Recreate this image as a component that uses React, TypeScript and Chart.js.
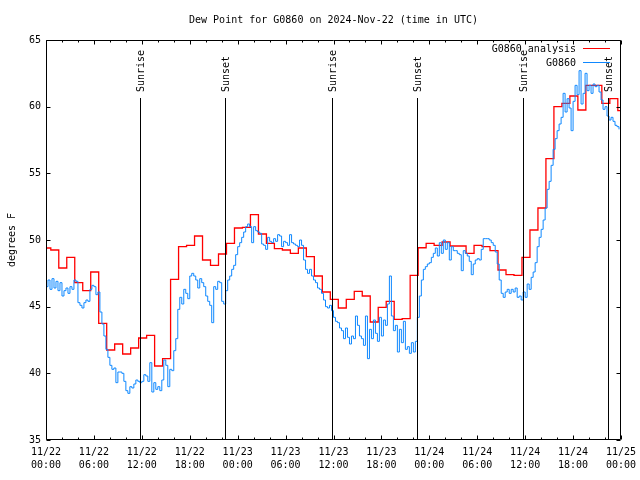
import React, { useEffect, useRef } from 'react';
import { Chart, registerables } from 'chart.js';

Chart.register(...registerables);

const TITLE = 'Dew Point for G0860 on 2024-Nov-22 (time in UTC)';
const Y_TITLE = 'degrees F';
const ANALYSIS_LABEL = 'G0860 analysis';
const STATION_LABEL = 'G0860';

const X_TICK_HOURS = [0, 6, 12, 18, 24, 30, 36, 42, 48, 54, 60, 66, 72];
const X_TICK_DATES = ['11/22', '11/22', '11/22', '11/22', '11/23', '11/23', '11/23', '11/23', '11/24', '11/24', '11/24', '11/24', '11/25'];
const X_TICK_TIMES = ['00:00', '06:00', '12:00', '18:00', '00:00', '06:00', '12:00', '18:00', '00:00', '06:00', '12:00', '18:00', '00:00'];

const Y_MIN = 35;
const Y_MAX = 65;
const Y_STEP = 5;

const SUNRISE_HOURS = [11.77, 35.78, 59.79];
const SUNSET_HOURS = [22.43, 46.41, 70.36];

// hourly analysis values; entry k holds from hour k-0.4 to k+0.6
const ANALYSIS_VALUES = [
  49.4, 49.25, 47.9, 48.7, 46.8, 46.2, 47.6, 43.75, 41.75, 42.2, 41.45, 41.9,
  42.65, 42.85, 40.55, 41.1, 47.05, 49.5, 49.6, 50.3, 48.5, 48.1, 48.95, 49.75,
  50.9, 50.95, 51.9, 50.45, 49.75, 49.35, 49.25, 49.0, 49.4, 48.75, 47.3, 46.1,
  45.55, 44.9, 45.55, 46.15, 45.8, 43.85, 44.95, 45.4, 44.05, 44.1, 47.35, 49.42,
  49.75, 49.6, 49.85, 49.55, 49.55, 49.0, 49.6, 49.5, 49.2, 47.75, 47.4, 47.35,
  48.7, 50.75, 52.4, 56.1, 60.0, 60.25, 60.8, 59.75, 61.6, 61.6, 60.25, 60.6,
  59.7,
];
const ANALYSIS_OFFSET_HOURS = -0.4;

// station observations every 15 minutes from 11/22 00:00
const STATION_STEP_HOURS = 0.25;
const STATION_VALUES = [
  46.5, 47.0, 46.3, 47.1, 46.4, 46.9, 46.2, 46.8,
  45.8, 46.2, 46.4, 46.0, 46.5, 46.3, 47.0, 46.9,
  45.3, 45.1, 44.9, 45.3, 45.5, 45.4, 46.3, 46.6,
  46.5, 45.9, 46.1, 44.6, 43.7, 42.8, 41.8, 41.2,
  40.6, 40.3, 40.4, 39.3, 40.1, 40.1, 40.0, 39.4,
  38.7, 38.5, 39.0, 38.9, 39.2, 39.5, 39.4, 39.3,
  39.4, 39.9, 39.8, 39.4, 40.8, 38.6, 39.3, 38.8,
  39.0, 38.7, 39.5, 41.0, 40.6, 39.0, 40.3, 40.2,
  41.7, 42.6, 44.8, 45.7, 45.2, 46.3, 46.0, 45.6,
  47.3, 47.5, 47.3, 47.0, 46.4, 47.1, 46.8, 46.5,
  45.8, 45.4, 45.1, 43.8, 46.5, 46.3, 46.9, 46.8,
  45.4, 45.2, 46.2, 47.0, 47.3, 47.8, 48.1, 48.9,
  49.5, 49.8, 50.2, 50.6, 51.0, 51.2, 51.0, 49.8,
  51.0, 50.7, 50.6, 50.5, 49.7, 49.6, 49.3, 50.2,
  49.9, 49.8, 50.1, 49.9, 50.4, 50.3, 49.5, 49.9,
  49.8, 49.6, 50.4, 49.8, 49.7, 49.6, 49.5, 50.0,
  49.6, 48.5, 47.8, 47.5, 47.8, 47.3, 47.0, 46.8,
  46.4, 46.3, 46.0, 45.5, 45.0, 44.9, 45.1, 44.7,
  44.2, 43.9, 43.8, 43.4, 43.2, 42.6, 43.4, 42.7,
  42.2, 42.8, 42.6, 44.3, 43.6, 42.8, 42.6, 42.1,
  44.3, 41.1, 43.3, 42.6, 44.0, 43.0, 42.4, 44.2,
  42.8, 44.0, 43.6, 45.2, 47.3, 44.3, 43.2, 43.6,
  41.6, 43.3, 42.3, 43.9, 41.8, 42.0, 41.5, 42.3,
  41.6, 42.4, 44.2, 45.8, 47.0, 47.8, 48.0, 48.2,
  48.3, 48.7, 49.0, 49.4, 48.8, 49.8, 49.0, 50.0,
  49.3, 49.8, 48.5, 49.5, 49.2, 49.2, 49.0, 48.9,
  47.7, 49.2, 49.0, 48.8, 48.4, 47.4, 48.2, 48.5,
  48.6, 48.5, 49.3, 50.1, 50.1, 50.1, 50.0, 49.8,
  49.6, 49.1, 48.2, 47.0, 46.0, 45.7, 46.1, 46.3,
  46.0, 46.3, 46.1, 46.4, 45.7, 45.8, 45.5, 46.1,
  45.7, 46.7, 46.3, 47.2, 47.6, 48.3, 49.5, 50.2,
  50.8, 51.5, 52.4, 53.8, 54.4, 55.6, 56.8, 57.6,
  58.2, 58.7, 59.2, 61.0, 59.6, 60.6, 59.9, 58.2,
  60.4, 61.6, 60.9, 62.7, 60.2, 61.0, 62.5, 61.2,
  61.6, 61.0, 61.7, 61.5, 61.6, 61.1, 60.5, 59.8,
  60.0, 59.3, 59.0, 59.2, 58.9, 58.6, 58.5, 58.3,
];

const ANALYSIS_COLOR = '#ff0000';
const STATION_COLOR = '#0f88ff';
const FONT = 'DejaVu Sans Mono';

export default function App() {
  const canvasRef = useRef<HTMLCanvasElement | null>(null);

  useEffect(() => {
    const canvas = canvasRef.current;
    if (!canvas) return;

    const analysisPoints = ANALYSIS_VALUES.map((v, k) => ({
      x: Math.max(0, k + ANALYSIS_OFFSET_HOURS),
      y: v,
    }));
    analysisPoints.push({ x: 72, y: ANALYSIS_VALUES[ANALYSIS_VALUES.length - 1] });

    const stationPoints = STATION_VALUES.map((v, i) => ({ x: i * STATION_STEP_HOURS, y: v }));

    const decorPlugin = {
      id: 'decor',
      afterDatasetsDraw(chart: any) {
        const { ctx, chartArea: a, scales } = chart;
        const xs = scales.x;
        const ys = scales.y;
        const L = Math.round(a.left) + 0.5;
        const R = Math.round(a.right) - 0.5;
        const T = Math.round(a.top) + 0.5;
        const B = Math.round(a.bottom) - 0.5;
        ctx.save();
        ctx.strokeStyle = '#000';
        ctx.fillStyle = '#000';
        ctx.lineWidth = 1;

        // sunrise / sunset lines
        ctx.font = `10px "${FONT}"`;
        const marks: [number, string][] = [];
        SUNRISE_HOURS.forEach((h) => marks.push([h, 'Sunrise']));
        SUNSET_HOURS.forEach((h) => marks.push([h, 'Sunset']));
        marks.forEach(([h, label]) => {
          const px = Math.round(xs.getPixelForValue(h)) + 0.5;
          ctx.beginPath();
          ctx.moveTo(px, 98);
          ctx.lineTo(px, B);
          ctx.stroke();
          ctx.save();
          ctx.translate(px + 0.5, 92);
          ctx.rotate(-Math.PI / 2);
          ctx.textAlign = 'left';
          ctx.textBaseline = 'middle';
          ctx.fillText(label, 0, 0);
          ctx.restore();
        });

        // frame
        ctx.beginPath();
        ctx.rect(L, T, R - L, B - T);
        ctx.stroke();

        // x ticks every 2 hours, inward on bottom and top
        ctx.beginPath();
        for (let h = 0; h <= 72; h += 2) {
          const px = Math.round(xs.getPixelForValue(h)) + 0.5;
          const len = h % 6 === 0 ? 4 : 2;
          ctx.moveTo(px, B);
          ctx.lineTo(px, B - len);
          ctx.moveTo(px, T);
          ctx.lineTo(px, T + len);
        }
        // y ticks inward on left and right
        for (let v = Y_MIN; v <= Y_MAX; v += Y_STEP) {
          const py = Math.round(ys.getPixelForValue(v)) + 0.5;
          ctx.moveTo(L, py);
          ctx.lineTo(L + 4, py);
          ctx.moveTo(R, py);
          ctx.lineTo(R - 4, py);
        }
        ctx.stroke();

        // legend
        ctx.textAlign = 'right';
        ctx.textBaseline = 'middle';
        ctx.fillStyle = '#000';
        ctx.fillText(ANALYSIS_LABEL, 576, 49);
        ctx.fillText(STATION_LABEL, 576, 63);
        ctx.strokeStyle = ANALYSIS_COLOR;
        ctx.beginPath();
        ctx.moveTo(583, 48.5);
        ctx.lineTo(610, 48.5);
        ctx.stroke();
        ctx.strokeStyle = STATION_COLOR;
        ctx.beginPath();
        ctx.moveTo(583, 62.5);
        ctx.lineTo(610, 62.5);
        ctx.stroke();
        ctx.restore();
      },
    };

    const chart = new Chart(canvas, {
      type: 'line',
      data: {
        datasets: [
          {
            label: STATION_LABEL,
            data: stationPoints,
            borderColor: STATION_COLOR,
            borderWidth: 1,
            pointRadius: 0,
            stepped: true,
            fill: false,
          },
          {
            label: ANALYSIS_LABEL,
            data: analysisPoints,
            borderColor: ANALYSIS_COLOR,
            borderWidth: 1.3,
            pointRadius: 0,
            stepped: true,
            fill: false,
          },
        ],
      },
      options: {
        responsive: false,
        animation: false,
        devicePixelRatio: 1,
        layout: { padding: { left: 0, right: 19, top: 0, bottom: 0 } },
        plugins: {
          legend: { display: false },
          tooltip: { enabled: false },
          title: {
            display: true,
            text: TITLE,
            fullSize: false,
            color: '#000',
            font: { family: FONT, size: 10, weight: 'normal', lineHeight: 1.2 },
            padding: { top: 14, bottom: 14 },
          },
        },
        scales: {
          x: {
            type: 'linear',
            min: 0,
            max: 72,
            grid: { display: false, drawTicks: false },
            border: { display: false },
            afterFit: (scale: any) => {
              scale.height = 40;
              scale.paddingLeft = 0;
              scale.paddingRight = 0;
            },
            afterBuildTicks: (scale: any) => {
              scale.ticks = X_TICK_HOURS.map((v) => ({ value: v }));
            },
            ticks: {
              autoSkip: false,
              maxRotation: 0,
              minRotation: 0,
              padding: 6,
              color: '#000',
              font: { family: FONT, size: 10, lineHeight: 1.3 },
              callback: (value: any) => {
                const i = X_TICK_HOURS.indexOf(Number(value));
                return i >= 0 ? [X_TICK_DATES[i], X_TICK_TIMES[i]] : '';
              },
            },
          },
          y: {
            type: 'linear',
            min: Y_MIN,
            max: Y_MAX,
            grid: { display: false, drawTicks: false },
            border: { display: false },
            afterFit: (scale: any) => {
              scale.width = 46;
              scale.paddingTop = 0;
              scale.paddingBottom = 0;
            },
            title: {
              display: true,
              text: Y_TITLE,
              color: '#000',
              font: { family: FONT, size: 10, lineHeight: 1.2 },
              padding: { top: 6, bottom: 0 },
            },
            ticks: {
              stepSize: Y_STEP,
              padding: 5,
              color: '#000',
              font: { family: FONT, size: 10 },
            },
          },
        },
      },
      plugins: [decorPlugin],
    });

    return () => {
      chart.destroy();
    };
  }, []);

  return (
    <div style={{ position: 'fixed', left: 0, top: 0, width: 640, height: 480, background: '#fff' }}>
      <canvas ref={canvasRef} width={640} height={480} style={{ width: 640, height: 480, display: 'block' }} />
    </div>
  );
}
